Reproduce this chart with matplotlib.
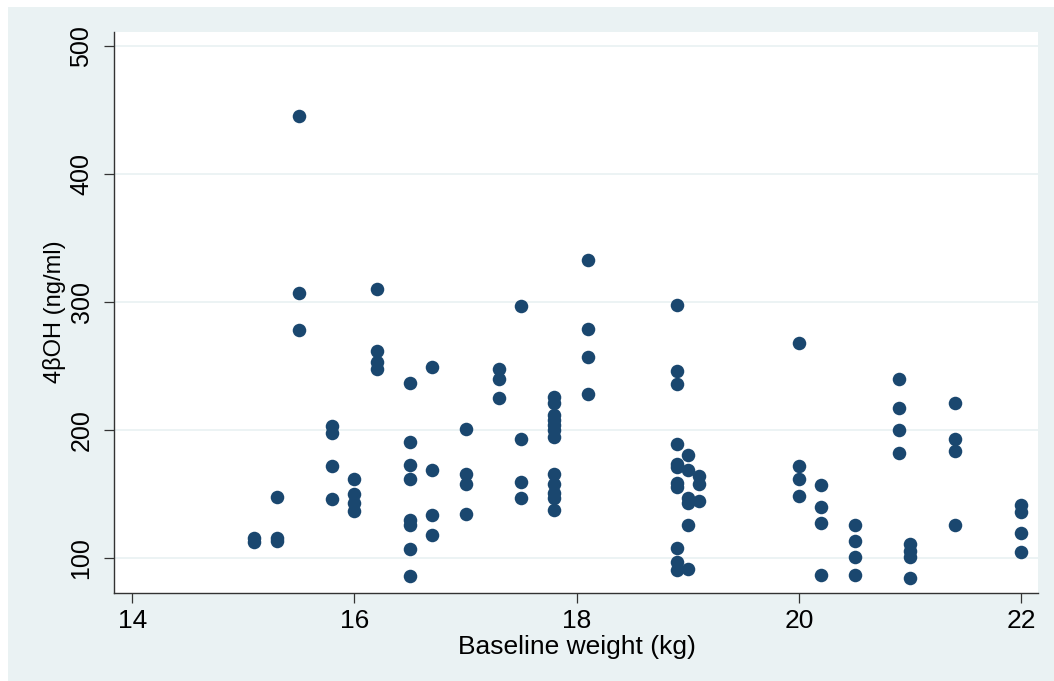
import matplotlib
matplotlib.use("Agg")
from matplotlib import pyplot as plt
from matplotlib.patches import Rectangle
import numpy as np

plt.rcParams['font.family'] = ['Liberation Sans', 'DejaVu Sans']

# baseline weight (kg) and 4beta-hydroxycholesterol (ng/ml), one entry per visit
weight = (
    [15.1] * 2 + [15.3] * 3 + [15.5] * 3 + [15.8] * 4 + [16.0] * 4
    + [16.2] * 4 + [16.5] * 8 + [16.7] * 4 + [17.0] * 4 + [17.3] * 3
    + [17.5] * 4 + [17.8] * 12 + [18.1] * 4 + [18.9] * 11 + [19.0] * 6
    + [19.1] * 3 + [20.0] * 4 + [20.2] * 4 + [20.5] * 4 + [20.9] * 4
    + [21.0] * 4 + [21.4] * 4 + [22.0] * 4
)
obh = [
    116, 113,                                   # 15.1
    148, 116, 114,                              # 15.3
    445, 307, 278,                              # 15.5
    203, 198, 172, 146,                         # 15.8
    162, 150, 143, 137,                         # 16.0
    310, 262, 253, 248,                         # 16.2
    237, 191, 173, 162, 130, 126, 107, 86,      # 16.5
    249, 169, 134, 118,                         # 16.7
    201, 166, 158, 135,                         # 17.0
    248, 240, 225,                              # 17.3
    297, 193, 160, 147,                         # 17.5
    226, 221, 212, 208, 204, 200, 195, 166, 158, 151, 147, 138,  # 17.8
    333, 279, 257, 228,                         # 18.1
    298, 246, 236, 189, 174, 171, 159, 156, 108, 97, 91,  # 18.9
    181, 169, 147, 143, 126, 92,                # 19.0
    164, 158, 145,                              # 19.1
    268, 172, 162, 149,                         # 20.0
    157, 140, 128, 87,                          # 20.2
    126, 114, 101, 87,                          # 20.5
    240, 217, 200, 182,                         # 20.9
    111, 106, 101, 85,                          # 21.0
    221, 193, 184, 126,                         # 21.4
    142, 136, 120, 105,                         # 22.0
]

x_ticks = [14, 16, 18, 20, 22]
y_ticks = [100, 200, 300, 400, 500]

navy = '#1a476f'
bg = '#eaf2f3'

fig = plt.figure(figsize=(10.54, 6.81), dpi=100)
fig.patch.set_facecolor('white')
fig.patches.append(Rectangle((8 / 1054, 0), 1, 1 - 7 / 681,
                             transform=fig.transFigure, facecolor=bg,
                             edgecolor='none', zorder=-10))

ax = fig.add_axes([0.1085, 0.1297, 0.9848 - 0.1085, 0.9535 - 0.1297])
ax.set_facecolor('white')
ax.scatter(weight, obh, s=95, color=navy, linewidths=0, zorder=3)

ax.set_xlim(13.84, 22.15)
ax.set_ylim(73.3, 511)
ax.set_xticks(x_ticks)
ax.set_yticks(y_ticks)
ax.grid(axis='y', color=bg, linewidth=1.3, zorder=0)

for side in ('top', 'right'):
    ax.spines[side].set_visible(False)
for side in ('left', 'bottom'):
    ax.spines[side].set_color('#333333')
    ax.spines[side].set_linewidth(1.0)

ax.tick_params(axis='both', direction='out', length=7, width=0.9,
               color='#333333')
ax.tick_params(axis='x', labelsize=19, pad=5)
ax.tick_params(axis='y', labelsize=18, pad=8)
for lab in ax.get_yticklabels():
    lab.set_rotation(90)
    lab.set_va('center')

ax.set_xlabel('Baseline weight (kg)', fontsize=19)
ax.set_ylabel('4βOH (ng/ml)', fontsize=17)
ax.xaxis.set_label_coords(0.501, -0.076)
ax.yaxis.set_label_coords(-0.052, 0.5)

fig.savefig('out.png', dpi=100)
